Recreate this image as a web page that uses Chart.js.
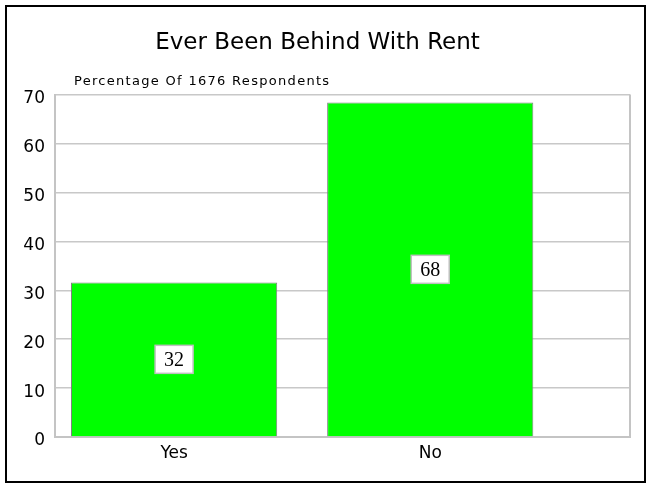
<!DOCTYPE html>
<html>
<head>
<meta charset="utf-8">
<script src="https://cdn.jsdelivr.net/npm/chart.js@4/dist/chart.umd.min.js"></script>
<style>
    html, body { margin: 0; padding: 0; background: #fff; }
    #wrap { width: 650px; height: 486px; }
</style>
</head>
<body>
<div id="wrap"><canvas id="rentChart" width="650" height="486"></canvas></div>
<script>
const categories = ['Yes', 'No'];
const percentValues = [31.6, 68.4];
const valueLabels = ['32', '68'];
const yTicks = [0, 10, 20, 30, 40, 50, 60, 70];
const chartTitle = 'Ever Been Behind With Rent';
const chartSubtitle = 'Percentage Of 1676 Respondents';

// frame, subtitle, right edge of the plot and the value boxes
const decorations = {
    id: 'decorations',
    afterDraw(chart) {
        const ctx = chart.ctx;
        const area = chart.chartArea;
        ctx.save();

        ctx.strokeStyle = '#c4c4c4';
        ctx.lineWidth = 2;
        ctx.beginPath();
        ctx.moveTo(area.right, area.top);
        ctx.lineTo(area.right, area.bottom);
        ctx.stroke();

        ctx.strokeStyle = '#000';
        ctx.lineWidth = 2;
        ctx.strokeRect(6, 6, 639, 476);

        ctx.fillStyle = '#000';
        ctx.font = '13px "DejaVu Sans"';
        ctx.textAlign = 'left';
        ctx.textBaseline = 'alphabetic';
        ctx.letterSpacing = '1.3px';
        ctx.fillText(chartSubtitle, 74, 85);
        ctx.letterSpacing = '0px';

        const meta = chart.getDatasetMeta(0);
        ctx.font = '20px "Liberation Serif"';
        ctx.textAlign = 'center';
        ctx.textBaseline = 'middle';
        meta.data.forEach((bar, i) => {
            const text = valueLabels[i];
            const cx = bar.x;
            const cy = (bar.y + bar.base) / 2;
            const w = ctx.measureText(text).width + 18;
            const h = 28;
            ctx.fillStyle = '#fff';
            ctx.fillRect(cx - w / 2, cy - h / 2, w, h);
            ctx.strokeStyle = '#c0c0c0';
            ctx.lineWidth = 1.5;
            ctx.strokeRect(cx - w / 2, cy - h / 2, w, h);
            ctx.fillStyle = '#000';
            ctx.fillText(text, cx, cy + 1);
        });
        ctx.restore();
    }
};

const ctx = document.getElementById('rentChart').getContext('2d');
new Chart(ctx, {
    type: 'bar',
    data: {
        datasets: [{
            data: categories.map((c, i) => ({ x: i, y: percentValues[i] })),
            backgroundColor: '#00ff00',
            borderColor: '#808080',
            borderWidth: 1,
            borderSkipped: 'bottom',
            barPercentage: 0.805,
            categoryPercentage: 1
        }]
    },
    options: {
        responsive: false,
        animation: false,
        layout: { padding: { left: 5, right: 20, top: 0, bottom: 20 } },
        plugins: {
            legend: { display: false },
            tooltip: { enabled: false },
            title: {
                display: true,
                text: chartTitle,
                color: '#000',
                font: { family: '"DejaVu Sans"', size: 23, weight: 'normal' },
                padding: { top: 29, bottom: 38 }
            }
        },
        scales: {
            x: {
                type: 'linear',
                offset: false,
                min: -0.465,
                max: 1.78,
                afterBuildTicks: axis => {
                    axis.ticks = categories.map((c, i) => ({ value: i }));
                },
                afterFit: axis => { axis.height = 29; },
                grid: { display: false, drawTicks: false },
                border: { display: true, color: '#c4c4c4', width: 2 },
                ticks: {
                    color: '#000',
                    padding: 6,
                    font: { family: '"DejaVu Sans"', size: 17 },
                    callback: value => categories[value] ?? ''
                }
            },
            y: {
                min: 0,
                max: 70,
                afterBuildTicks: axis => {
                    axis.ticks = yTicks.map(v => ({ value: v }));
                },
                afterFit: axis => { axis.width = 50; },
                grid: { color: '#c8c8c8', lineWidth: 1.5, drawTicks: false },
                border: { display: true, color: '#c4c4c4', width: 2 },
                ticks: {
                    color: '#000',
                    padding: 10,
                    labelOffset: 4,
                    font: { family: '"DejaVu Sans"', size: 17 }
                }
            }
        }
    },
    plugins: [decorations]
});
</script>
</body>
</html>
